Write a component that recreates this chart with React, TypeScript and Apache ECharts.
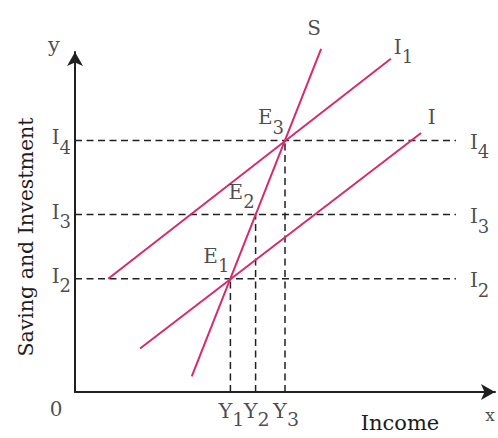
import React, { useEffect, useRef } from 'react';
import * as echarts from 'echarts';

// Saving (S) and investment schedules (I, I1), in income / S-I units
const savingLine: number[][] = [[27.8, 4.6], [58.6, 100.9]];
const investmentLine: number[][] = [[15.5, 12.8], [82.4, 76.2]];
const investmentLine1: number[][] = [[7.9, 33.3], [75.2, 98]];

// Investment levels I2, I3, I4 and matching income levels Y1, Y2, Y3
const levelSubscripts = ['2', '3', '4'];
const levelValues = [33.3, 52.2, 74];
const incomeSubscripts = ['1', '2', '3'];
const incomeValues = [37, 43, 50];
const equilibriumSubscripts = ['1', '2', '3'];
const levelLineEnd = 90.7;

const FONT = 'DejaVu Serif';
const TEXT = '#1c1c1c';
const PINK = '#d62a6f';
const INK = '#202020';
const DASH = [7, 4.5];

const rich = {
  m: { fontFamily: FONT, fontSize: 20, color: TEXT, verticalAlign: 'top' },
  s: { fontFamily: FONT, fontSize: 18, color: TEXT, padding: [11, 0, 0, 0] },
  y: { fontFamily: FONT, fontSize: 21, color: TEXT, verticalAlign: 'top' },
  t: { fontFamily: FONT, fontSize: 19, color: TEXT, padding: [9, 0, 0, 0] },
};

const sub = (main: string, s: string) => `{m|${main}}{s|${s}}`;

function buildOption() {
  const dashed = (data: number[][]) => ({
    type: 'line',
    data,
    symbol: 'none',
    silent: true,
    clip: false,
    lineStyle: { color: INK, width: 1.5, type: DASH },
    z: 2,
  });
  const schedule = (data: number[][]) => ({
    type: 'line',
    data,
    symbol: 'none',
    silent: true,
    clip: false,
    lineStyle: { color: PINK, width: 2 },
    z: 3,
  });

  const horizontal = levelValues.map((v) => dashed([[0, v], [levelLineEnd, v]]));
  const vertical = incomeValues.map((x, i) => dashed([[x, 0], [x, levelValues[i]]]));

  const labelData: any[] = [];
  levelValues.forEach((v, i) => {
    labelData.push({
      value: [0, v],
      label: { formatter: sub('I', levelSubscripts[i]), position: 'left', distance: 4, offset: [0, 1.5] },
    });
    labelData.push({
      value: [levelLineEnd, v],
      label: { formatter: sub('I', levelSubscripts[i]), position: 'right', distance: 14, offset: [0, 6] },
    });
  });
  incomeValues.forEach((x, i) => {
    labelData.push({
      value: [x, 0],
      label: { formatter: `{y|Y}{t|${incomeSubscripts[i]}}`, position: 'bottom', distance: 8, offset: [1, 0] },
    });
    labelData.push({
      value: [x, levelValues[i]],
      label: { formatter: sub('E', equilibriumSubscripts[i]), position: 'left', distance: 1, offset: [0, -18.5] },
    });
  });
  const sEnd = savingLine[savingLine.length - 1];
  const iEnd = investmentLine[investmentLine.length - 1];
  const i1End = investmentLine1[investmentLine1.length - 1];
  labelData.push({ value: sEnd, label: { formatter: '{m|S}', position: 'inside', offset: [-7, -21] } });
  labelData.push({ value: i1End, label: { formatter: sub('I', '1'), position: 'right', distance: 3, offset: [0, -7.5] } });
  labelData.push({ value: iEnd, label: { formatter: '{m|I}', position: 'inside', offset: [10.5, -15.5] } });
  labelData.push({
    value: [0, 0],
    label: { formatter: '0', position: 'inside', offset: [-19, 17], fontSize: 20 },
  });
  labelData.push({
    value: [0, 100],
    label: { formatter: 'y', position: 'inside', offset: [-21, -7.5], fontSize: 21 },
  });
  labelData.push({
    value: [100, 0],
    label: { formatter: 'x', position: 'inside', offset: [-5, 22.5], fontSize: 17 },
  });

  const axisLine = {
    show: true,
    symbol: ['none', 'arrow'],
    symbolSize: [12, 14],
    symbolOffset: [0, 0],
    lineStyle: { color: INK, width: 2 },
  };

  return {
    animation: false,
    backgroundColor: '#ffffff',
    grid: { left: 75, right: 3, top: 52, bottom: 41, containLabel: false },
    xAxis: {
      type: 'value',
      min: 0,
      max: 100,
      axisLine,
      axisTick: { show: false },
      axisLabel: { show: false },
      splitLine: { show: false },
      name: 'Income',
      nameLocation: 'middle',
      nameGap: 20,
      nameTextStyle: { fontFamily: FONT, fontSize: 21, color: TEXT, padding: [0, 0, 0, 230] },
    },
    yAxis: {
      type: 'value',
      min: 0,
      max: 100,
      axisLine,
      axisTick: { show: false },
      axisLabel: { show: false },
      splitLine: { show: false },
      name: 'Saving and Investment',
      nameLocation: 'middle',
      nameGap: 39,
      nameTextStyle: { fontFamily: FONT, fontSize: 20.5, color: TEXT, padding: [0, 30, 0, 0] },
    },
    series: [
      ...horizontal,
      ...vertical,
      schedule(investmentLine),
      schedule(investmentLine1),
      schedule(savingLine),
      {
        type: 'scatter',
        data: labelData,
        symbolSize: 0,
        silent: true,
        clip: false,
        z: 5,
        label: { show: true, fontFamily: FONT, color: TEXT, rich },
      },
    ],
  };
}

export default function App() {
  const ref = useRef<HTMLDivElement>(null);
  useEffect(() => {
    if (!ref.current) return;
    const chart = echarts.init(ref.current, null, { renderer: 'svg' });
    chart.setOption(buildOption() as any);
    return () => chart.dispose();
  }, []);
  return (
    <div
      ref={ref}
      style={{ position: 'fixed', left: 0, top: 0, width: 498, height: 438, background: '#fff' }}
    />
  );
}
